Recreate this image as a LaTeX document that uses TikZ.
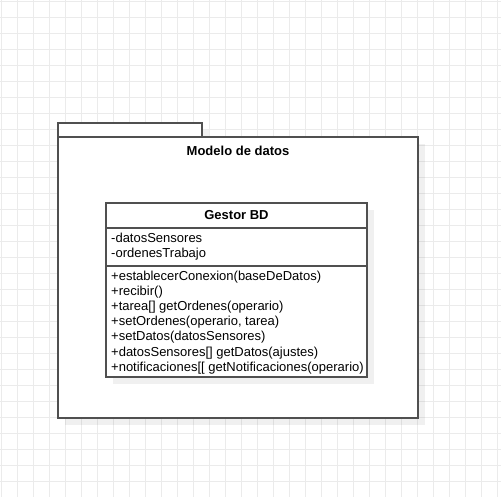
\documentclass[tikz,border=0pt]{standalone}
\usepackage{fontspec}
\setmainfont{Liberation Sans}
\usetikzlibrary{positioning}
\definecolor{raster}{RGB}{235,235,235}
\definecolor{linie}{RGB}{80,80,80}

\begin{document}
\begin{tikzpicture}[x=1pt, y=-1pt,
			>=latex,   %Voreinstellung für Pfeilspitzen
			rahmen/.style={draw=linie, line width=1.1pt, fill=white},
			schatten/.style={fill=black, fill opacity=0.06},
			eintrag/.style={anchor=base west, inner sep=0pt, font=\fontsize{13}{15}\selectfont},
			titel/.style={anchor=base, inner sep=0pt, font=\fontsize{13}{15}\selectfont\bfseries}]
			\useasboundingbox (0,0) rectangle (501,497);
			\fill[white] (0,0) rectangle (501,497);
			% Raster
			\foreach \k in {0,...,31} \draw[raster, line width=1pt] (1.5+16*\k,0) -- (1.5+16*\k,497);
			\foreach \k in {0,...,30} \draw[raster, line width=1pt] (0,1.5+16*\k) -- (501,1.5+16*\k);
			% Paket
			\fill[schatten] (65,130) rectangle (209,144);
			\fill[schatten] (65,144) rectangle (425,425);
			\filldraw[rahmen] (58,123) rectangle (202,137);
			\filldraw[rahmen] (58,137) rectangle (418,418);
			\node[titel] (paket) at (238,155.5) {Modelo de datos};
			% Klasse
			\fill[schatten] (113,210) rectangle (374,384);
			\filldraw[rahmen] (106,203) rectangle (367,377);
			\draw[linie, line width=1.1pt] (106,228) -- (367,228);
			\draw[linie, line width=1.1pt] (106,266) -- (367,266);
			\node[titel] (klasse) at (236.5,219.5) {Gestor BD};
			\node[eintrag] (a1) at (111,243) {-datosSensores};
			\node[eintrag] (a2) at (111,258) {-ordenesTrabajo};
			\node[eintrag] (m1) at (111,281) {+establecerConexion(baseDeDatos)};
			\node[eintrag] (m2) at (111,296) {+recibir()};
			\node[eintrag] (m3) at (111,311) {+tarea[] getOrdenes(operario)};
			\node[eintrag] (m4) at (111,326) {+setOrdenes(operario, tarea)};
			\node[eintrag] (m5) at (111,341) {+setDatos(datosSensores)};
			\node[eintrag] (m6) at (111,356) {+datosSensores[] getDatos(ajustes)};
			\node[eintrag] (m7) at (111,371) {+notificaciones[[ getNotificaciones(operario)};
		\end{tikzpicture}
\end{document}
